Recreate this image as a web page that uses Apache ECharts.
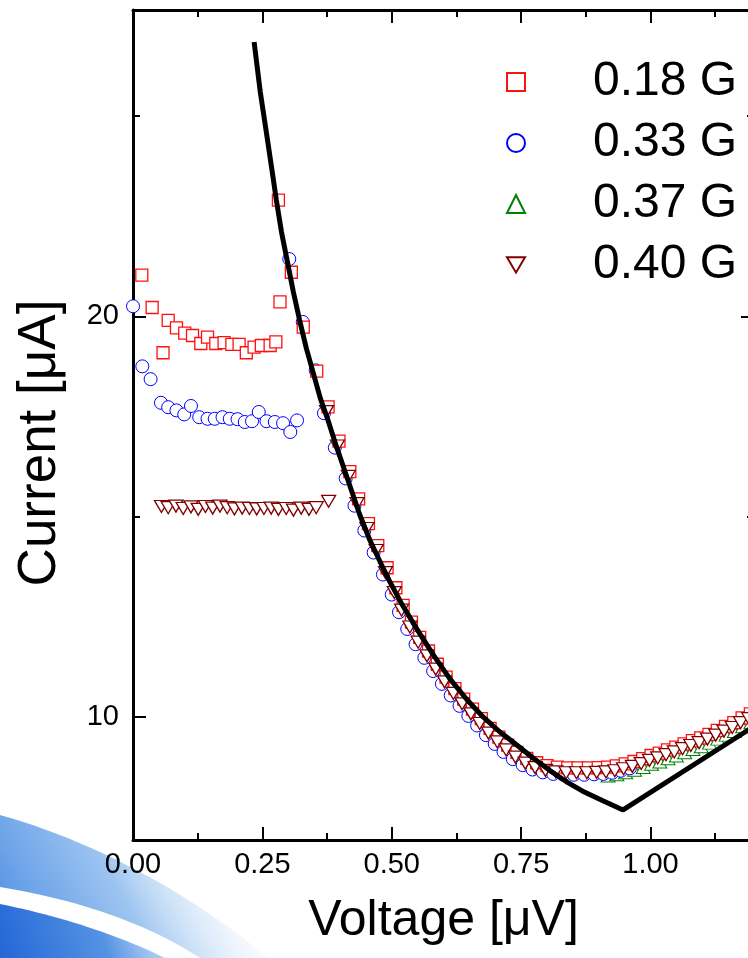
<!DOCTYPE html>
<html><head><meta charset="utf-8">
<script src="https://cdn.jsdelivr.net/npm/echarts@6/dist/echarts.min.js"></script>
<style>html,body{margin:0;padding:0;background:#fff}#c{width:748px;height:958px}</style>
</head><body><div id="c"></div>
<script>
const seriesNames = ['0.18 G', '0.33 G', '0.37 G', '0.40 G'];
const xMajorTicks = [0, 0.25, 0.5, 0.75, 1.0];
const xMinorTicks = [0.125, 0.375, 0.625, 0.875, 1.125];
const yMajorTicks = [10, 20];
const yMinorTicks = [15, 25];
const xTitle = 'Voltage [\u03bcV]';
const yTitle = 'Current [\u03bcA]';

// 0.18 G (red squares)
const data018 = [
 [0.017,21.03],[0.037,20.22],[0.058,19.09],[0.068,19.90],[0.084,19.71],[0.100,19.58],[0.115,19.52],[0.131,19.32],[0.144,19.48],[0.160,19.32],[0.176,19.34],[0.191,19.30],[0.205,19.30],[0.219,19.09],[0.234,19.23],[0.248,19.27],[0.265,19.27],[0.276,19.36],
 [0.284,20.36],[0.281,22.90],[0.306,21.10],[0.329,19.73],[0.355,18.63],
 [0.377,17.74],[0.398,16.88],[0.419,16.12],[0.436,15.44],[0.455,14.82],[0.473,14.27],[0.491,13.72],[0.508,13.22],[0.522,12.78],[0.538,12.36],[0.554,11.98],[0.571,11.64],[0.588,11.31],[0.605,10.99],[0.622,10.70],[0.639,10.44],[0.656,10.19],[0.673,9.95],[0.690,9.71],[0.707,9.49],[0.724,9.29],[0.742,9.11],[0.761,8.96],[0.780,8.85],[0.800,8.78],[0.820,8.74],[0.840,8.72],[0.860,8.72],[0.880,8.72],[0.899,8.73],[0.917,8.74],[0.934,8.77],[0.951,8.82],[0.968,8.88],[0.985,8.95],[1.001,9.03],[1.017,9.09],[1.033,9.17],[1.049,9.24],[1.065,9.32],[1.081,9.40],[1.097,9.47],[1.113,9.56],[1.129,9.66],[1.145,9.76],[1.161,9.85],[1.177,9.97],[1.193,10.07]
];
// 0.33 G (blue circles)
const data033 = [
 [0.000,20.25],[0.018,18.75],[0.034,18.43],[0.054,17.84],[0.068,17.73],[0.084,17.65],[0.099,17.55],[0.112,17.76],[0.128,17.48],[0.144,17.44],[0.158,17.44],[0.173,17.48],[0.187,17.44],[0.202,17.43],[0.216,17.36],[0.230,17.38],[0.243,17.61],[0.258,17.38],[0.274,17.36],[0.290,17.33],[0.304,17.11],[0.317,17.40],
 [0.302,21.43],[0.328,19.86],[0.353,18.65],[0.369,17.58],[0.390,16.72],[0.411,15.95],[0.428,15.27],[0.447,14.65],[0.465,14.10],[0.483,13.55],[0.500,13.05],[0.514,12.61],[0.530,12.19],[0.546,11.81],[0.563,11.47],[0.580,11.14],[0.597,10.82],[0.614,10.53],[0.631,10.27],[0.648,10.02],[0.665,9.78],[0.682,9.54],[0.699,9.32],[0.716,9.12],[0.734,8.94],[0.753,8.79],[0.772,8.68],[0.792,8.61],[0.812,8.57],[0.832,8.55],[0.852,8.55],[0.872,8.55],[0.891,8.56],[0.909,8.57],[0.926,8.60],[0.943,8.65],[0.960,8.71]
];
// 0.37 G (green up-triangles)
const data037 = [
 [0.918,8.52],[0.935,8.55],[0.952,8.60],[0.969,8.66],[0.986,8.73],[1.002,8.81],[1.018,8.87],[1.034,8.95],[1.050,9.02],[1.066,9.10],[1.082,9.18],[1.098,9.25],[1.114,9.34],[1.130,9.44],[1.146,9.54],[1.162,9.63],[1.178,9.75],[1.194,9.85]
];
// 0.40 G (dark red down-triangles)
const data040 = [
 [0.055,15.25],[0.068,15.22],[0.083,15.26],[0.097,15.20],[0.112,15.24],[0.126,15.18],[0.140,15.25],[0.154,15.21],[0.168,15.26],[0.182,15.22],[0.196,15.19],[0.211,15.21],[0.225,15.20],[0.239,15.19],[0.253,15.20],[0.267,15.21],[0.281,15.18],[0.296,15.20],[0.310,15.16],[0.325,15.21],[0.340,15.18],[0.354,15.22],[0.378,15.38],
 [0.374,17.62],[0.395,16.76],[0.416,16.00],[0.433,15.32],[0.452,14.70],[0.470,14.15],[0.488,13.60],[0.505,13.10],[0.519,12.66],[0.535,12.24],[0.551,11.86],[0.568,11.52],[0.585,11.19],[0.602,10.87],[0.619,10.58],[0.636,10.32],[0.653,10.07],[0.670,9.83],[0.687,9.59],[0.704,9.37],[0.721,9.17],[0.739,8.99],[0.758,8.84],[0.777,8.73],[0.797,8.66],[0.817,8.62],[0.837,8.60],[0.857,8.60],[0.877,8.60],[0.896,8.61],[0.914,8.62],[0.931,8.65],[0.948,8.70],[0.965,8.76],[0.982,8.83],[0.998,8.91],[1.014,8.97],[1.030,9.05],[1.046,9.12],[1.062,9.20],[1.078,9.28],[1.094,9.35],[1.110,9.44],[1.126,9.54],[1.142,9.64],[1.158,9.73],[1.174,9.85],[1.190,9.95]
];
// theoretical curve (black line)
const fitCurve = [
 [0.234,26.85],[0.246,25.60],[0.258,24.57],[0.268,23.70],[0.277,22.90],[0.287,22.10],[0.297,21.45],[0.310,20.60],[0.322,19.90],[0.335,19.20],[0.348,18.60],[0.362,17.95],[0.377,17.40],[0.393,16.75],[0.409,16.15],[0.424,15.58],[0.438,15.05],[0.458,14.40],[0.480,13.80],[0.496,13.38],[0.520,12.80],[0.548,12.20],[0.580,11.55],[0.612,10.95],[0.645,10.43],[0.676,10.00],[0.708,9.63],[0.741,9.30],[0.773,8.97],[0.805,8.66],[0.837,8.38],[0.869,8.14],[0.908,7.90],[0.947,7.67],[1.200,9.76]
];

const X_MIN = 0, X_MAX = 1.2, Y_MIN = 6.92, Y_MAX = 27.65;
const FONT = '"Liberation Sans", Arial, Helvetica, sans-serif';
const gridBox = {left: 133, top: 10, width: 621, height: 830, outerBoundsMode: 'none', containLabel: false};

function xAx(gi, pos, ticks, len, showLine, labels) {
  return {
    type: 'value', gridIndex: gi, position: pos, min: X_MIN, max: X_MAX,
    axisLine: {show: showLine, onZero: false, lineStyle: {color: '#000', width: 3}},
    axisTick: {show: true, inside: true, length: len, customValues: ticks, lineStyle: {color: '#000', width: 2}},
    axisLabel: labels ? {show: true, customValues: xMajorTicks, formatter: v => v.toFixed(2), fontSize: 29, fontFamily: FONT, color: '#000', margin: 10} : {show: false},
    splitLine: {show: false}
  };
}
function yAx(gi, pos, ticks, len, showLine, labels) {
  return {
    type: 'value', gridIndex: gi, position: pos, min: Y_MIN, max: Y_MAX,
    axisLine: {show: showLine, onZero: false, lineStyle: {color: '#000', width: 3}},
    axisTick: {show: true, inside: true, length: len, customValues: ticks, lineStyle: {color: '#000', width: 2}},
    axisLabel: labels ? {show: true, customValues: yMajorTicks, formatter: v => String(v), fontSize: 29, fontFamily: FONT, color: '#000', margin: 14} : {show: false},
    splitLine: {show: false}
  };
}

// decorative swoosh helper: cubic bezier sampled to polygon points
function bez(p0, p1, p2, p3, n) {
  const pts = [];
  for (let i = 0; i <= n; i++) {
    const t = i / n, u = 1 - t;
    pts.push([u*u*u*p0[0] + 3*u*u*t*p1[0] + 3*u*t*t*p2[0] + t*t*t*p3[0],
              u*u*u*p0[1] + 3*u*u*t*p1[1] + 3*u*t*t*p2[1] + t*t*t*p3[1]]);
  }
  return pts;
}
const bandPts = bez([0,815],[90,840],[190,892],[268,958],24).concat(bez([200,958],[150,925],[80,900],[0,887],24));
const darkPts = bez([0,904],[60,916],[118,935],[165,958],24).concat([[0,958]]);

const downTri = 'path://M0,0L20,0L10,17Z';
function sc(name, data, symbol, size, color, bw) {
  return {
    name, type: 'scatter', data, symbol, symbolSize: size, symbolKeepAspect: false,
    xAxisIndex: 0, yAxisIndex: 0,
    itemStyle: {color: '#fff', borderColor: color, borderWidth: bw, opacity: 1},
    emphasis: {disabled: true}, animation: false
  };
}

const chart = echarts.init(document.getElementById('c'), null, {renderer: 'canvas'});
chart.setOption({
  backgroundColor: '#fff',
  animation: false,
  grid: [Object.assign({}, gridBox), Object.assign({}, gridBox)],
  xAxis: [
    Object.assign(xAx(0, 'bottom', xMajorTicks, 13, true, true), {
      name: xTitle, nameLocation: 'middle', nameGap: 56,
      nameTextStyle: {fontSize: 50, fontFamily: FONT, color: '#000'}
    }),
    xAx(0, 'top', xMajorTicks, 13, true, false),
    xAx(1, 'bottom', xMinorTicks, 7, false, false),
    xAx(1, 'top', xMinorTicks, 7, false, false)
  ],
  yAxis: [
    yAx(0, 'left', yMajorTicks, 13, true, true),
    yAx(0, 'right', yMajorTicks, 13, true, false),
    yAx(1, 'left', yMinorTicks, 7, false, false),
    yAx(1, 'right', yMinorTicks, 7, false, false)
  ],
  legend: {
    data: seriesNames, orient: 'vertical', left: 506, top: 57, padding: 0,
    itemWidth: 18, itemHeight: 18, itemGap: 11, selectedMode: false,
    textStyle: {fontSize: 48, fontFamily: FONT, color: '#000', padding: [0, 0, 0, 63], lineHeight: 50}
  },
  graphic: [
    {type: 'polygon', silent: true, z: -10, shape: {points: bandPts},
     style: {fill: new echarts.graphic.LinearGradient(0, 1, 1, 0, [
       {offset: 0, color: '#4a8be3'}, {offset: 0.45, color: '#9cc4f0'}, {offset: 0.85, color: 'rgba(255,255,255,0.2)'}, {offset: 1, color: 'rgba(255,255,255,0)'}])}},
    {type: 'polygon', silent: true, z: -10, shape: {points: darkPts},
     style: {fill: new echarts.graphic.LinearGradient(0, 1, 1, 0, [
       {offset: 0, color: '#2366d8'}, {offset: 0.6, color: '#5593e2'}, {offset: 1, color: 'rgba(130,178,238,0.4)'}])}},
    {type: 'text', silent: true, x: 40, y: 443, rotation: Math.PI / 2,
     style: {text: yTitle, font: '53px ' + FONT, fill: '#000', align: 'center', verticalAlign: 'middle'}}
  ],
  series: [
    sc('0.37 G', data037, 'triangle', [14, 12], '#008000', 1),
    sc('0.33 G', data033, 'circle', 13, '#0000ff', 1),
    sc('0.18 G', data018, 'rect', 12, '#ff1010', 1.3),
    sc('0.40 G', data040, downTri, [14, 12], '#800000', 1.3),
    {name: 'fit', type: 'line', data: fitCurve, showSymbol: false, symbol: 'none',
     xAxisIndex: 0, yAxisIndex: 0, lineStyle: {color: '#000', width: 5}, z: 5,
     emphasis: {disabled: true}, animation: false}
  ]
});
</script></body></html>
